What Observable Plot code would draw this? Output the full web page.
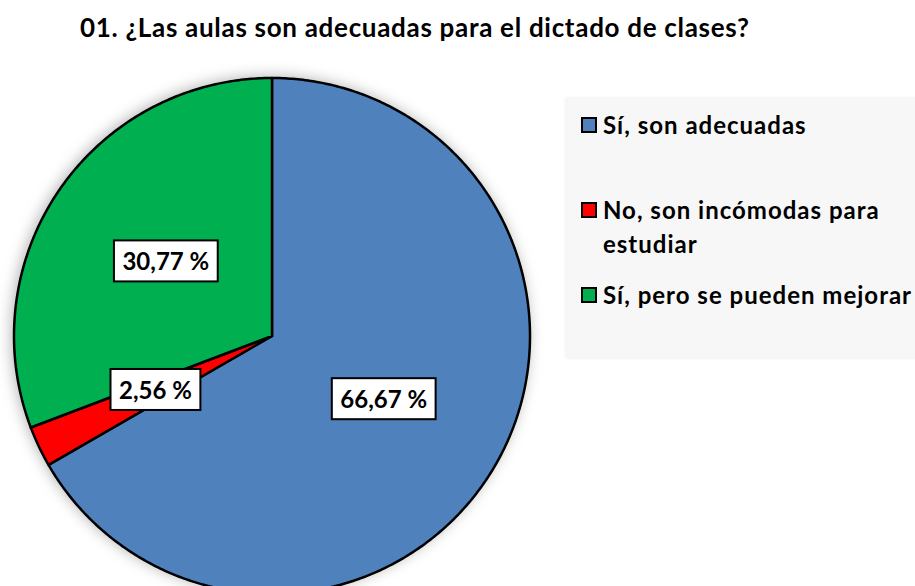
<!DOCTYPE html>
<html>
<head>
<meta charset="utf-8">
<script src="https://cdn.jsdelivr.net/npm/d3@7"></script>
<script src="https://cdn.jsdelivr.net/npm/@observablehq/plot@0.6"></script>
<style>
  html, body { margin: 0; padding: 0; background: #fff; }
  #wrap { position: relative; width: 915px; height: 586px; overflow: hidden; font-family: Lato, "Open Sans", sans-serif; font-weight: bold; color: #000; }
  #title { position: absolute; left: 80px; top: 11px; font-size: 26px; letter-spacing: 0.7px; white-space: nowrap; }
  #legend { position: absolute; left: 567px; top: 97px; width: 360px; height: 260px; background: #f7f7f7; box-shadow: -1px 1px 4px rgba(0,0,0,0.08); }
  .item { position: absolute; left: 14px; font-size: 24px; letter-spacing: 1px; line-height: 34px; display: flex; align-items: flex-start; }
  .sw { width: 12px; height: 12px; border: 2px solid #000; margin-right: 6px; margin-top: 9px; flex: none; }
  #chart { position: absolute; left: 0; top: 0; }
</style>
</head>
<body>
<div id="wrap">
  <div id="chart"></div>
  <div id="title"></div>
  <div id="legend"></div>
</div>
<script>
const title = "01. ¿Las aulas son adecuadas para el dictado de clases?";
const categories = ["Sí, son adecuadas", "No, son incómodas para estudiar", "Sí, pero se pueden mejorar"];
const legendLines = [["Sí, son adecuadas"], ["No, son incómodas para", "estudiar"], ["Sí, pero se pueden mejorar"]];
const values = [66.67, 2.56, 30.77];
const labels = ["66,67 %", "2,56 %", "30,77 %"];
const colors = ["#4f81bd", "#ff0000", "#00b050"];

document.getElementById("title").textContent = title;

// legend
const legendTops = [11, 96, 181];
const leg = d3.select("#legend");
categories.forEach((c, i) => {
  const it = leg.append("div").attr("class", "item").style("top", legendTops[i] + "px");
  it.append("div").attr("class", "sw").style("background", colors[i]);
  it.append("div").html(legendLines[i].join("<br>"));
});

// pie geometry (unit radius), angle clockwise from 12 o'clock
const W = 915, H = 586, cx = 271.5, cy = 335.5, R = 258;
const total = d3.sum(values);
let acc = 0;
const pts = [];
const labelPts = [];
values.forEach((v, i) => {
  const a0 = acc / total * 2 * Math.PI;
  acc += v;
  const a1 = acc / total * 2 * Math.PI;
  pts.push({k: categories[i], x: 0, y: 0});
  const n = Math.max(2, Math.ceil((a1 - a0) / 0.01));
  for (let j = 0; j <= n; j++) {
    const a = a0 + (a1 - a0) * j / n;
    pts.push({k: categories[i], x: Math.sin(a), y: Math.cos(a)});
  }
  const am = (a0 + a1) / 2;
  labelPts.push({k: categories[i], label: labels[i], x: 0.5 * Math.sin(am), y: 0.5 * Math.cos(am)});
});

const plot = Plot.plot({
  width: W, height: H, margin: 0,
  x: {domain: [-cx / R, (W - cx) / R], range: [0, W], axis: null},
  y: {domain: [cy / R, -(H - cy) / R], range: [0, H], axis: null},
  color: {domain: categories, range: colors},
  marks: [
    Plot.line(pts, {x: "x", y: "y", z: "k", fill: "k", stroke: "#000", strokeWidth: 2.5, curve: "linear-closed", strokeLinejoin: "round"}),
    Plot.text(labelPts, {x: "x", y: "y", text: "label", fontSize: 24, fontWeight: "bold", fill: "#000", fontFamily: "Lato, sans-serif"})
  ]
});
plot.style.fontFamily = "Lato, sans-serif";
document.getElementById("chart").appendChild(plot);

const svg = d3.select(plot);
svg.select('g[aria-label="line"]').style("filter", "drop-shadow(-2px -1px 7px rgba(0,0,0,0.28))");
// white boxes behind labels
svg.selectAll('g[aria-label="text"] text').each(function() {
  const bb = this.getBBox();
  const padX = 8.5, h = 41;
  const cyb = bb.y + bb.height / 2;
  d3.select(this.parentNode).insert("rect", () => this)
    .attr("transform", this.getAttribute("transform"))
    .attr("x", (this.getAttribute("x") ? +this.getAttribute("x") : 0) + bb.x - padX - (this.getAttribute("x") ? +this.getAttribute("x") : 0))
    .attr("y", cyb - h / 2)
    .attr("width", bb.width + 2 * padX).attr("height", h)
    .attr("fill", "#fff").attr("stroke", "#000").attr("stroke-width", 2);
});
</script>
</body>
</html>
